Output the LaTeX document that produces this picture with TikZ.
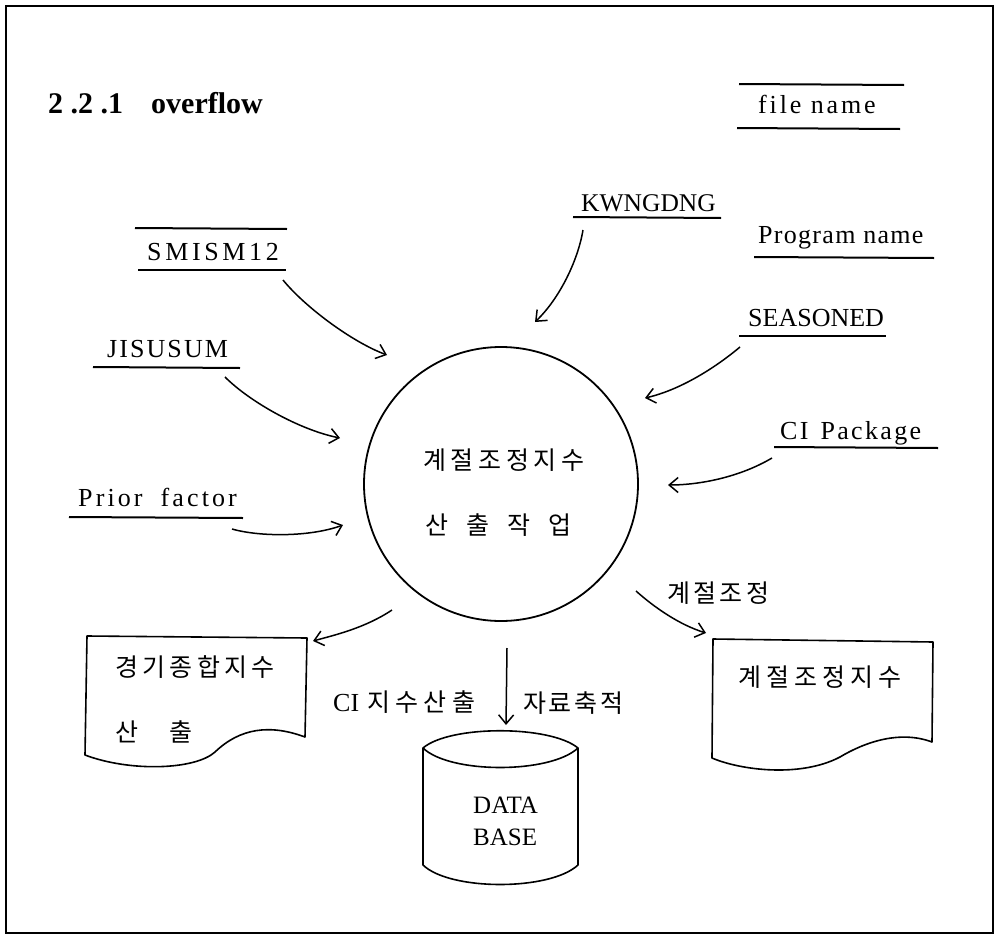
\documentclass[tikz,border=0pt]{standalone}
\usepackage{fontspec}
\setmainfont{Liberation Serif}
\newfontfamily\kr{Noto Sans CJK KR}
\usetikzlibrary{arrows.meta}
\newcommand{\fsz}[1]{\fontsize{#1}{#1}\selectfont}
\newcommand{\lsp}[1]{\addfontfeatures{LetterSpace=#1}}
\newlength\kg
\newcommand{\gp}{\kern\kg}
\begin{document}
\begin{tikzpicture}[x=1pt,y=-1pt,
  lbl/.style={inner sep=0, anchor=base west, font=\fsz{26}},
  krl/.style={inner sep=0, anchor=west, font=\kr\fsz{25}},
  uline/.style={line width=2},
  flow/.style={line width=1.5, -{Straight Barb[length=9pt,width=15pt,line width=1.5pt]}},
  shapeline/.style={line width=1.6, line join=round}]
\useasboundingbox (0,0) rectangle (997,937);
\draw[line width=2.6] (6,6) rectangle (993,933);

% title
\node[lbl, font=\fsz{30}\bfseries] (title) at (48,113) {2 .2 .1\hspace{28pt}overflow};

% legend
\node[lbl, font=\fsz{26}\lsp{11}] (fname) at (758,113) {file name};
\draw[uline] (739,84) -- (904,85);
\draw[uline] (737,128) -- (900,129);
\node[lbl, font=\fsz{26}\lsp{5}] (pname) at (758,243) {Program name};
\draw[uline] (754,257) -- (934,258);

% inputs
\node[lbl, font=\fsz{25.5}] (kwn) at (581,211) {KWNGDNG};
\draw[uline] (573,217) -- (721,218);
\node[lbl] (sea) at (748,326) {SEASONED};
\draw[uline] (739,336) -- (886,336);
\node[lbl, font=\fsz{26}\lsp{14}] (smi) at (147,260) {SMISM12};
\draw[uline] (135,228) -- (287,229);
\draw[uline] (138,270) -- (286,270);
\node[lbl, font=\fsz{26}\lsp{8}] (jis) at (107,357) {JISUSUM};
\draw[uline] (93,367) -- (240,368);
\node[lbl, font=\fsz{26}\lsp{12}] (prior) at (78,506) {Prior\hspace{18pt}factor};
\draw[uline] (69,517) -- (243,518);
\node[lbl, font=\fsz{26}\lsp{9}] (cipk) at (780,439) {CI\hspace{12pt}Package};
\draw[uline] (774,447) -- (938,448);

% process circle
\node[circle, draw, line width=1.8, minimum size=274pt, inner sep=0] (proc) at (501,484) {};
\node[krl] (proct1) at (423,460) {\setlength\kg{4.6pt}계\gp 절\gp 조\gp 정\gp 지\gp 수};
\node[krl] (proct2) at (425,525) {산\hspace{18pt}출\hspace{18pt}작\hspace{18pt}업};

% left document
\draw[shapeline] (87,636) -- (307,638) -- (305,737)
  .. controls (270,724) and (240,728) .. (215,752)
  .. controls (195,770) and (130,772) .. (85,755) -- cycle;
\node[krl] (doc1a) at (115,667) {\setlength\kg{4.3pt}경\gp 기\gp 종\gp 합\gp 지\gp 수};
\node[krl] (doc1b) at (115,732) {산\hspace{31pt}출};

% right document
\draw[shapeline] (713,639) -- (933,642) -- (932,742)
  .. controls (900,730) and (865,742) .. (840,757)
  .. controls (800,778) and (740,770) .. (712,758) -- cycle;
\node[krl] (doc2) at (738,677) {\setlength\kg{5pt}계\gp 절\gp 조\gp 정\gp 지\gp 수};

% database cylinder
\draw[shapeline] (423,748) .. controls (450,725) and (550,725) .. (578,748)
  -- (578,865) .. controls (550,891) and (450,891) .. (423,865) -- cycle;
\draw[shapeline] (423,748) .. controls (450,774) and (550,774) .. (578,748);
\node[lbl, font=\fsz{25}] (db1) at (473,813) {DATA};
\node[lbl, font=\fsz{25}] (db2) at (473,845) {BASE};

% flow labels
\node[krl] (lab1) at (667,593) {\setlength\kg{3.3pt}계\gp 절\gp 조\gp 정};
\node[krl, font=\fsz{26}] (lab2) at (333,702) {CI\hspace{8pt}{\kr\fsz{25}\setlength\kg{5.3pt}지\gp 수\gp 산\gp 출}};
\node[krl] (lab3) at (523,703) {\setlength\kg{2.7pt}자\gp 료\gp 축\gp 적};

% connector end points
\coordinate (a1) at (283,280); \coordinate (b1) at (387,355);
\coordinate (a2) at (225,377); \coordinate (b2) at (340,438);
\coordinate (a3) at (232,529); \coordinate (b3) at (343,525);
\coordinate (a4) at (583,230); \coordinate (b4) at (535,322);
\coordinate (a5) at (740,347); \coordinate (b5) at (645,398);
\coordinate (a6) at (772,458); \coordinate (b6) at (668,485);
\coordinate (a7) at (392,610); \coordinate (b7) at (313,641);
\coordinate (a8) at (507,648); \coordinate (b8) at (506,725);
\coordinate (a9) at (636,591); \coordinate (b9) at (706,633);

\draw[flow] (a1) .. controls (305,307) and (352,342) .. (b1);
\draw[flow] (a2) .. controls (250,402) and (300,430) .. (b2);
\draw[flow] (a3) .. controls (260,537) and (310,537) .. (b3);
\draw[flow] (a4) .. controls (578,260) and (560,298) .. (b4);
\draw[flow] (a5) .. controls (715,368) and (680,390) .. (b5);
\draw[flow] (a6) .. controls (740,477) and (700,485) .. (b6);
\draw[flow] (a7) .. controls (365,628) and (335,635) .. (b7);
\draw[flow] (a8) -- (b8);
\draw[flow] (a9) .. controls (655,608) and (680,625) .. (b9);
\end{tikzpicture}
\end{document}
